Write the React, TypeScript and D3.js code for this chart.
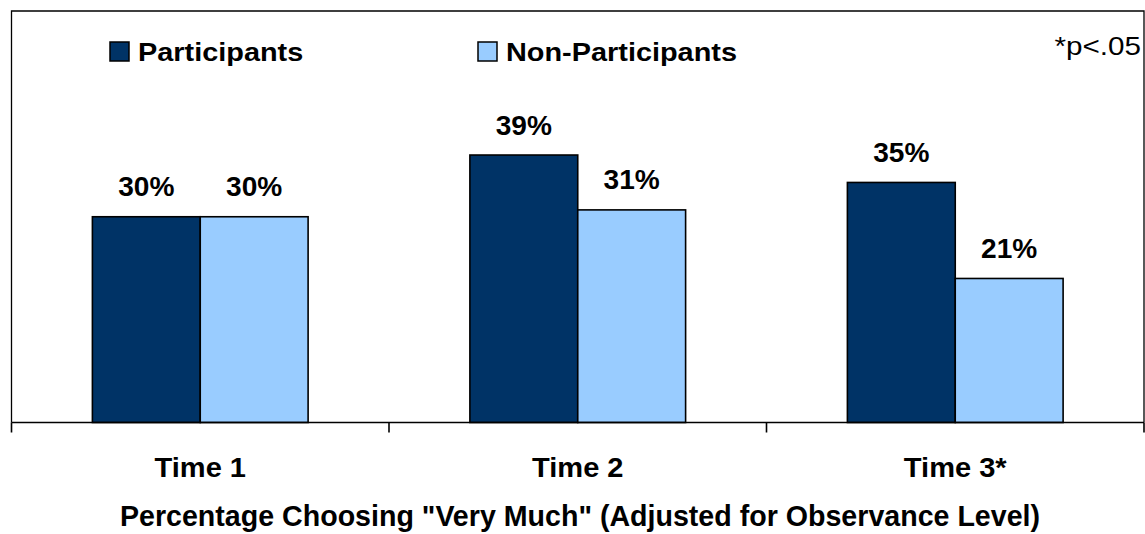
import React from "react";
import * as d3 from "d3";

const categories = ["Time 1", "Time 2", "Time 3*"];
const seriesNames = ["Participants", "Non-Participants"];
const participants = [30, 39, 35];
const nonParticipants = [30, 31, 21];
const seriesColors = ["#003366", "#99CCFF"];
const yDomain = [0, 60];
const titleText = 'Percentage Choosing "Very Much" (Adjusted for Observance Level)';
const noteText = "*p<.05";

const W = 1145;
const H = 534;
const plot = { left: 11.5, right: 1144, top: 11, bottom: 422.5 };
const FONT = "'Liberation Sans', Arial, Helvetica, sans-serif";

// Text drawn with a slight horizontal stretch, anchored at (x, y)
function WideText(props: {
  x: number;
  y: number;
  sx: number;
  size: number;
  bold?: boolean;
  anchor?: "start" | "middle" | "end";
  children: React.ReactNode;
}) {
  const { x, y, sx, size, bold, anchor = "start", children } = props;
  return (
    <text
      transform={`translate(${x},${y}) scale(${sx},1)`}
      textAnchor={anchor}
      fontWeight={bold ? "bold" : "normal"}
      fontSize={size}
      fill="#000"
    >
      {children}
    </text>
  );
}

export default function App() {
  const x0 = d3
    .scaleBand<string>()
    .domain(categories)
    .range([plot.left, plot.right])
    .paddingInner(0)
    .paddingOuter(0);
  const x1 = d3
    .scaleBand<string>()
    .domain(seriesNames)
    .range([0, x0.bandwidth()])
    .paddingInner(0)
    .paddingOuter(0.75);
  const y = d3.scaleLinear().domain(yDomain).range([plot.bottom, plot.top]);

  const values = [participants, nonParticipants];
  const tickXs = [...categories.map((c) => x0(c)!), x0(categories[categories.length - 1])! + x0.bandwidth()];

  const legendItems = [
    { name: seriesNames[0], x: 110, color: seriesColors[0] },
    { name: seriesNames[1], x: 478, color: seriesColors[1] },
  ];

  return (
    <svg
      width={W}
      height={H}
      style={{ position: "absolute", left: 0, top: 0, background: "#fff" }}
      fontFamily={FONT}
    >
      <rect x={0} y={0} width={W} height={H} fill="#fff" />
      {/* plot frame */}
      <path
        d={`M${plot.left},${plot.bottom} V${plot.top} H${plot.right} V${plot.bottom}`}
        fill="none"
        stroke="#000"
        strokeWidth={1.3}
      />

      {/* bars */}
      {categories.map((c, i) =>
        seriesNames.map((s, j) => {
          const v = values[j][i];
          const bx = x0(c)! + x1(s)!;
          return (
            <g key={`${c}-${s}`}>
              <rect
                x={bx}
                y={y(v)}
                width={x1.bandwidth()}
                height={y(0) - y(v)}
                fill={seriesColors[j]}
                stroke="#000"
                strokeWidth={1.6}
              />
              <WideText x={bx + x1.bandwidth() / 2} y={y(v) - 20.5} sx={1.04} size={27} bold anchor="middle">
                {`${v}%`}
              </WideText>
            </g>
          );
        })
      )}

      {/* x axis */}
      <line x1={plot.left} x2={plot.right} y1={plot.bottom} y2={plot.bottom} stroke="#000" strokeWidth={1.6} />
      {tickXs.map((tx, i) => (
        <line key={i} x1={tx} x2={tx} y1={plot.bottom} y2={plot.bottom + 10} stroke="#000" strokeWidth={1.6} />
      ))}
      {categories.map((c) => (
        <WideText key={c} x={x0(c)! + x0.bandwidth() / 2} y={476.5} sx={1.02} size={28.5} bold anchor="middle">
          {c}
        </WideText>
      ))}

      {/* axis title */}
      <WideText x={580} y={526} sx={1.0} size={28.6} bold anchor="middle">
        {titleText}
      </WideText>

      {/* legend */}
      {legendItems.map((it) => (
        <g key={it.name}>
          <rect x={it.x} y={42} width={19} height={19} fill={it.color} stroke="#000" strokeWidth={1.5} />
          <WideText x={it.x + 28} y={61} sx={1.09} size={26.5} bold>
            {it.name}
          </WideText>
        </g>
      ))}

      {/* significance note */}
      <WideText x={1141} y={55} sx={1.12} size={26.5} anchor="end">
        {noteText}
      </WideText>
    </svg>
  );
}
